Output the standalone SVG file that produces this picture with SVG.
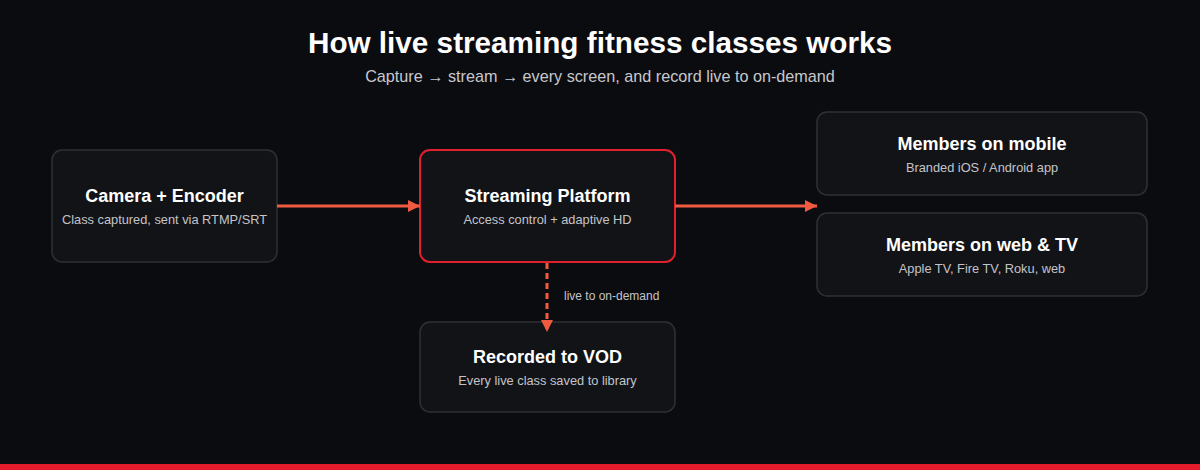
<svg xmlns="http://www.w3.org/2000/svg" width="1200" height="470" viewBox="0 0 1200 470">
<style>
.node{fill:#121317;stroke:#2f3035;stroke-width:1.5}
.hl{stroke:#e0202e;stroke-width:2}
.t{font-family:"Liberation Sans",Arial,sans-serif;font-weight:bold;font-size:18px;fill:#ffffff;text-anchor:middle}
.s{font-family:"Liberation Sans",Arial,sans-serif;font-size:12.8px;fill:#c4c4c8;text-anchor:middle}
.edge{stroke:#f05a40;stroke-width:3;fill:none}
</style>
<defs>
<marker id="ah" viewBox="0 0 10 10" refX="10" refY="5" markerWidth="4" markerHeight="4" orient="auto" markerUnits="strokeWidth">
<path d="M0,0 L10,5 L0,10 z" fill="#f05a40"/>
</marker>
</defs>
<rect width="1200" height="470" fill="#0b0c10"/>
<text x="600" y="53" font-family="Liberation Sans,Arial,sans-serif" font-weight="bold" font-size="29.7" fill="#ffffff" text-anchor="middle">How live streaming fitness classes works</text>
<text x="600" y="82" font-family="Liberation Sans,Arial,sans-serif" font-size="16.2" fill="#c8c8cc" text-anchor="middle">Capture → stream → every screen, and record live to on-demand</text>
<g id="camera">
<rect class="node" x="52" y="150" width="225" height="112" rx="10"/>
<text class="t" x="164.5" y="202">Camera + Encoder</text>
<text class="s" x="164.5" y="224">Class captured, sent via RTMP/SRT</text>
</g>
<g id="platform">
<rect class="node hl" x="420" y="150" width="255" height="112" rx="10"/>
<text class="t" x="547.5" y="202">Streaming Platform</text>
<text class="s" x="547.5" y="224">Access control + adaptive HD</text>
</g>
<g id="vod">
<rect class="node" x="420" y="322" width="255" height="90" rx="10"/>
<text class="t" x="547.5" y="363">Recorded to VOD</text>
<text class="s" x="547.5" y="385">Every live class saved to library</text>
</g>
<g id="mobile">
<rect class="node" x="817" y="112" width="330" height="83" rx="10"/>
<text class="t" x="982" y="150">Members on mobile</text>
<text class="s" x="982" y="172">Branded iOS / Android app</text>
</g>
<g id="webtv">
<rect class="node" x="817" y="213" width="330" height="83" rx="10"/>
<text class="t" x="982" y="251">Members on web &amp; TV</text>
<text class="s" x="982" y="273">Apple TV, Fire TV, Roku, web</text>
</g>
<g id="connectors">
<line class="edge" x1="277" y1="206" x2="420" y2="206" marker-end="url(#ah)"/>
<line class="edge" x1="675" y1="206" x2="817" y2="206" marker-end="url(#ah)"/>
<line class="edge" x1="547" y1="263" x2="547" y2="332" stroke-dasharray="6,4" marker-end="url(#ah)"/>
<text x="564" y="300" font-family="Liberation Sans,Arial,sans-serif" font-size="12" fill="#c4c4c8">live to on-demand</text>
</g>
<rect x="0" y="464" width="1200" height="6" fill="#e31b2b"/>
</svg>
